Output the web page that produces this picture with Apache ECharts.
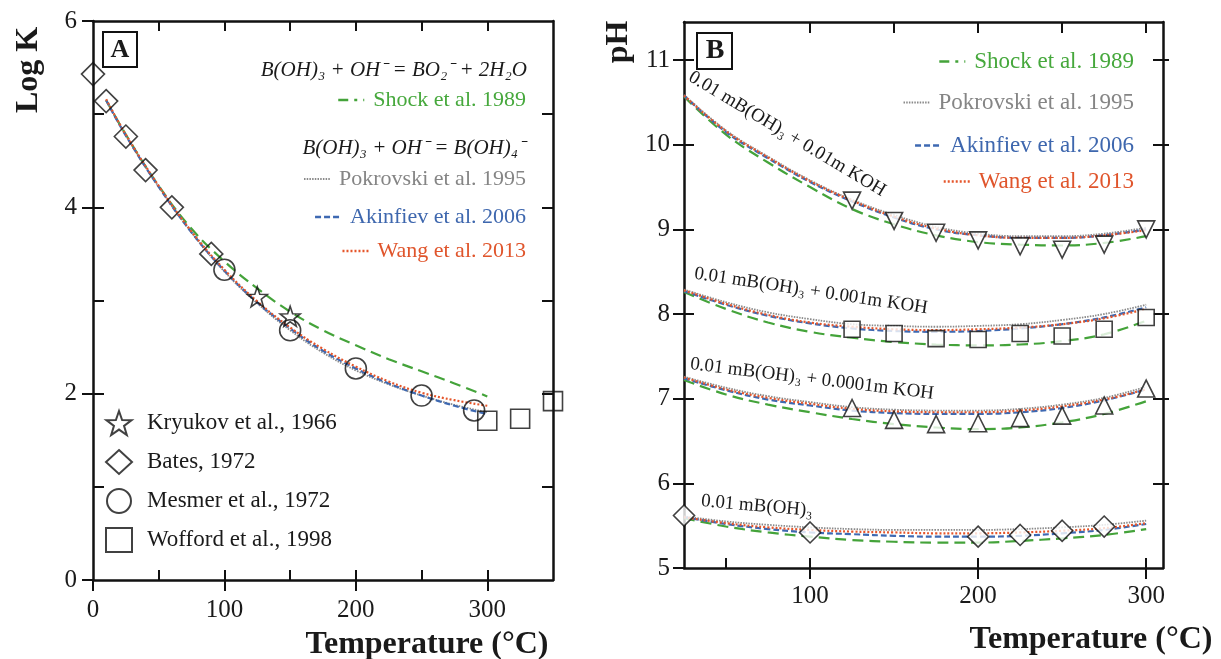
<!DOCTYPE html>
<html>
<head>
<meta charset="utf-8">
<script src="https://cdn.jsdelivr.net/npm/echarts@6/dist/echarts.min.js"></script>
<style>
html,body{margin:0;padding:0;background:#fff;}
#chart{width:1221px;height:659px;}
</style>
</head>
<body>
<div id="chart"></div>
<script>
// ---------- Panel A data (log K vs temperature) ----------
const tempA = [10, 25, 50, 75, 100, 125, 150, 175, 200, 225, 250, 275, 300];
const shockA = [5.15, 4.78, 4.23, 3.77, 3.42, 3.13, 2.88, 2.68, 2.52, 2.37, 2.24, 2.11, 1.97];
const pokrovskiA = [5.15, 4.77, 4.22, 3.73, 3.31, 2.97, 2.68, 2.44, 2.25, 2.10, 1.98, 1.88, 1.80];
const akinfievA = [5.15, 4.77, 4.22, 3.73, 3.32, 2.98, 2.70, 2.46, 2.27, 2.11, 1.98, 1.87, 1.78];
const wangA = [5.16, 4.78, 4.23, 3.74, 3.33, 2.99, 2.71, 2.48, 2.29, 2.13, 2.01, 1.93, 1.87];

const kryukovT = [125, 150];
const kryukovK = [3.04, 2.83];
const batesT = [0, 10, 25, 40, 60, 90];
const batesK = [5.43, 5.14, 4.76, 4.40, 4.00, 3.50];
const mesmerT = [100, 150, 200, 250, 290];
const mesmerK = [3.33, 2.68, 2.27, 1.98, 1.82];
const woffordT = [300, 325, 350];
const woffordK = [1.71, 1.73, 1.92];

// ---------- Panel B data (pH vs temperature) ----------
const tempB = [25, 50, 75, 100, 125, 150, 175, 200, 225, 250, 275, 300];
// 0.01 mB(OH)3 + 0.01m KOH
const shockB1 = [10.57, 10.12, 9.79, 9.50, 9.24, 9.06, 8.93, 8.85, 8.82, 8.81, 8.84, 8.92];
const pokrovskiB1 = [10.59, 10.17, 9.86, 9.58, 9.35, 9.17, 9.03, 8.95, 8.92, 8.92, 8.95, 9.02];
const akinfievB1 = [10.58, 10.15, 9.84, 9.56, 9.33, 9.14, 9.00, 8.93, 8.90, 8.90, 8.93, 9.00];
const wangB1 = [10.58, 10.16, 9.85, 9.57, 9.34, 9.15, 9.01, 8.93, 8.90, 8.90, 8.93, 8.99];
// 0.01 mB(OH)3 + 0.001m KOH
const shockB2 = [8.26, 8.06, 7.90, 7.79, 7.72, 7.67, 7.64, 7.63, 7.64, 7.68, 7.76, 7.92];
const pokrovskiB2 = [8.29, 8.14, 8.02, 7.94, 7.88, 7.86, 7.85, 7.86, 7.88, 7.93, 8.00, 8.11];
const akinfievB2 = [8.27, 8.11, 7.98, 7.89, 7.83, 7.80, 7.79, 7.80, 7.83, 7.88, 7.96, 8.08];
const wangB2 = [8.28, 8.12, 7.99, 7.90, 7.85, 7.82, 7.81, 7.82, 7.84, 7.88, 7.95, 8.06];
// 0.01 mB(OH)3 + 0.0001m KOH
const shockB3 = [7.22, 7.05, 6.93, 6.84, 6.76, 6.70, 6.66, 6.64, 6.66, 6.72, 6.82, 6.97];
const pokrovskiB3 = [7.26, 7.13, 7.03, 6.96, 6.90, 6.87, 6.86, 6.86, 6.88, 6.93, 7.01, 7.14];
const akinfievB3 = [7.24, 7.10, 6.99, 6.92, 6.86, 6.83, 6.82, 6.82, 6.84, 6.89, 6.98, 7.11];
const wangB3 = [7.25, 7.11, 7.01, 6.94, 6.88, 6.85, 6.84, 6.84, 6.86, 6.91, 6.99, 7.11];
// 0.01 mB(OH)3
const shockB4 = [5.59, 5.49, 5.42, 5.37, 5.33, 5.31, 5.30, 5.30, 5.32, 5.35, 5.39, 5.46];
const pokrovskiB4 = [5.61, 5.55, 5.51, 5.48, 5.46, 5.45, 5.45, 5.45, 5.46, 5.48, 5.51, 5.56];
const akinfievB4 = [5.60, 5.52, 5.46, 5.42, 5.40, 5.38, 5.37, 5.37, 5.38, 5.41, 5.45, 5.52];
const wangB4 = [5.60, 5.53, 5.48, 5.45, 5.43, 5.42, 5.41, 5.41, 5.42, 5.44, 5.47, 5.53];

// measured points panel B
const koh01T = [125, 150, 175, 200, 225, 250, 275, 300];
const koh01pH = [9.34, 9.10, 8.96, 8.87, 8.80, 8.76, 8.82, 9.00];
const koh001T = [125, 150, 175, 200, 225, 250, 275, 300];
const koh001pH = [7.82, 7.77, 7.71, 7.70, 7.77, 7.74, 7.82, 7.96];
const koh0001T = [125, 150, 175, 200, 225, 250, 275, 300];
const koh0001pH = [6.89, 6.75, 6.70, 6.71, 6.77, 6.80, 6.92, 7.12];
const boricT = [25, 100, 200, 225, 250, 275];
const boricpH = [5.62, 5.42, 5.37, 5.39, 5.44, 5.49];

// tick labels
const xTicksA = [0, 100, 200, 300];
const yTicksA = [0, 2, 4, 6];
const xTicksB = [100, 200, 300];
const yTicksB = [5, 6, 7, 8, 9, 10, 11];

// ---------- styles ----------
const SERIF = "'Liberation Serif','Times New Roman',serif";
const C_GREEN = '#44a33a', C_GRAY = '#8a8a8a', C_BLUE = '#3e69b2', C_ORANGE = '#e5562b';
const models = [
  {name: 'Shock et al. 1989', color: C_GREEN, type: [11, 6], width: 2.2, text: '#46a83c', key: [10, 6, 3, 6]},
  {name: 'Pokrovski et al. 1995', color: C_GRAY, type: [1.5, 1.2], width: 1.8, text: '#858585', key: [1.5, 1.2]},
  {name: 'Akinfiev et al. 2006', color: C_BLUE, type: [6, 3], width: 2.2, text: '#3e67ae', key: [6, 3]},
  {name: 'Wang et al. 2013', color: C_ORANGE, type: [2, 2], width: 2.2, text: '#e0552c', key: [2, 2]}
];
const STAR = 'path://M100,0L123.5,67.6L195.1,69.1L138,112.4L158.8,180.9L100,140L41.2,180.9L62,112.4L4.9,69.1L76.5,67.6Z';

function pairs(xs, ys) { return xs.map((x, i) => [x, ys[i]]); }

const AXC = '#111';
function baseAxis(extra) {
  return Object.assign({
    type: 'value', splitLine: {show: false},
    axisLine: {show: false, onZero: false, lineStyle: {color: AXC, width: 2.5}},
    axisTick: {show: false}, axisLabel: {show: false}
  }, extra);
}
const lblStyle = {fontFamily: SERIF, fontSize: 25, color: '#1a1a1a'};

const xAxis = [
  baseAxis({gridIndex: 0, position: 'bottom', min: 0, max: 350,
    axisLine: {show: true, onZero: false, lineStyle: {color: AXC, width: 2.5}},
    axisTick: {show: true, inside: false, length: 11, customValues: xTicksA, lineStyle: {color: AXC, width: 2}},
    axisLabel: Object.assign({show: true, margin: 18, customValues: xTicksA}, lblStyle)}),
  baseAxis({gridIndex: 0, position: 'bottom', min: 0, max: 350,
    axisTick: {show: true, inside: true, length: 10, customValues: [50, 100, 150, 200, 250, 300], lineStyle: {color: AXC, width: 2}}}),
  baseAxis({gridIndex: 0, position: 'top', min: 0, max: 350,
    axisLine: {show: true, onZero: false, lineStyle: {color: AXC, width: 2.5}},
    axisTick: {show: true, inside: true, length: 10, customValues: [50, 100, 150, 200, 250, 300], lineStyle: {color: AXC, width: 2}}}),
  baseAxis({gridIndex: 1, position: 'bottom', min: 25, max: 310,
    axisLine: {show: true, onZero: false, lineStyle: {color: AXC, width: 2.5}},
    axisTick: {show: true, inside: false, length: 11, customValues: xTicksB, lineStyle: {color: AXC, width: 2}},
    axisLabel: Object.assign({show: true, margin: 16, customValues: xTicksB}, lblStyle)}),
  baseAxis({gridIndex: 1, position: 'bottom', min: 25, max: 310,
    axisTick: {show: true, inside: true, length: 10, customValues: [50, 100, 200, 300], lineStyle: {color: AXC, width: 2}}}),
  baseAxis({gridIndex: 1, position: 'top', min: 25, max: 310,
    axisLine: {show: true, onZero: false, lineStyle: {color: AXC, width: 2.5}},
    axisTick: {show: true, inside: true, length: 11, customValues: [100, 150, 200, 250, 300], lineStyle: {color: AXC, width: 2}}})
];

const yAxis = [
  baseAxis({gridIndex: 0, position: 'left', min: 0, max: 6,
    axisLine: {show: true, onZero: false, lineStyle: {color: AXC, width: 2.5}},
    axisTick: {show: true, inside: false, length: 11, customValues: yTicksA, lineStyle: {color: AXC, width: 2}},
    axisLabel: Object.assign({show: true, margin: 16, customValues: yTicksA}, lblStyle)}),
  baseAxis({gridIndex: 0, position: 'left', min: 0, max: 6,
    axisTick: {show: true, inside: true, length: 11, customValues: [1, 2, 3, 4, 5], lineStyle: {color: AXC, width: 2}}}),
  baseAxis({gridIndex: 0, position: 'right', min: 0, max: 6,
    axisLine: {show: true, onZero: false, lineStyle: {color: AXC, width: 2.5}},
    axisTick: {show: true, inside: true, length: 11, customValues: [1, 2, 3, 4, 5], lineStyle: {color: AXC, width: 2}}}),
  baseAxis({gridIndex: 1, position: 'left', min: 5, max: 11.45,
    axisLine: {show: true, onZero: false, lineStyle: {color: AXC, width: 2.5}},
    axisTick: {show: true, inside: false, length: 11, customValues: yTicksB, lineStyle: {color: AXC, width: 2}},
    axisLabel: Object.assign({show: true, margin: 14, customValues: yTicksB}, lblStyle)}),
  baseAxis({gridIndex: 1, position: 'left', min: 5, max: 11.45,
    axisTick: {show: true, inside: true, length: 10, customValues: [6, 7, 8, 9, 10, 11], lineStyle: {color: AXC, width: 2}}}),
  baseAxis({gridIndex: 1, position: 'right', min: 5, max: 11.45,
    axisLine: {show: true, onZero: false, lineStyle: {color: AXC, width: 2.5}},
    axisTick: {show: true, inside: false, length: 6, customValues: [6, 7, 8, 9, 10, 11], lineStyle: {color: AXC, width: 2}}}),
  baseAxis({gridIndex: 1, position: 'right', min: 5, max: 11.45,
    axisTick: {show: true, inside: true, length: 10, customValues: [6, 7, 8, 9, 10, 11], lineStyle: {color: AXC, width: 2}}})
];

const series = [];
function curve(m, xs, ys, xi, yi) {
  series.push({
    name: m.name, type: 'line', xAxisIndex: xi, yAxisIndex: yi, smooth: 0.4,
    symbol: 'none', showSymbol: false, silent: true,
    lineStyle: {color: m.color, width: m.width, type: m.type},
    itemStyle: {color: m.color},
    data: pairs(xs, ys), z: 3
  });
}
[shockA, pokrovskiA, akinfievA, wangA].forEach((ys, i) => curve(models[i], tempA, ys, 0, 0));
const groupsB = [
  [shockB1, pokrovskiB1, akinfievB1, wangB1],
  [shockB2, pokrovskiB2, akinfievB2, wangB2],
  [shockB3, pokrovskiB3, akinfievB3, wangB3],
  [shockB4, pokrovskiB4, akinfievB4, wangB4]
];
groupsB.forEach(g => g.forEach((ys, i) => curve(models[i], tempB, ys, 3, 3)));

function pts(name, xs, ys, xi, yi, symbol, size, fill, rot) {
  series.push({
    name: name, type: 'scatter', xAxisIndex: xi, yAxisIndex: yi,
    symbol: symbol, symbolSize: size, symbolRotate: rot || 0, clip: false, silent: true,
    itemStyle: {color: fill, borderColor: '#111', borderWidth: 1.6},
    data: pairs(xs, ys), z: 5
  });
}
pts('Kryukov et al., 1966', kryukovT, kryukovK, 0, 0, STAR, 20, 'rgba(255,255,255,0)');
pts('Bates, 1972', batesT, batesK, 0, 0, 'diamond', 23, 'rgba(255,255,255,0)');
pts('Mesmer et al., 1972', mesmerT, mesmerK, 0, 0, 'circle', 21, 'rgba(255,255,255,0)');
pts('Wofford et al., 1998', woffordT, woffordK, 0, 0, 'rect', 19, 'rgba(255,255,255,0)');
pts('0.01m KOH (measured)', koh01T, koh01pH, 3, 3, 'triangle', 17, '#fff', 180);
pts('0.001m KOH (measured)', koh001T, koh001pH, 3, 3, 'rect', 16, '#fff');
pts('0.0001m KOH (measured)', koh0001T, koh0001pH, 3, 3, 'triangle', 17, '#fff');
pts('B(OH)3 only (measured)', boricT, boricpH, 3, 3, 'diamond', 21, '#fff');

// Legends
const legends = [];
const legA_y = [101, 180, 218, 252];
const legB_y = [62, 103, 146, 182];
models.forEach((m, i) => {
  [[695, legA_y[i], 22], [87, legB_y[i], 23]].forEach(([r, cy, fs]) => {
    legends.push({
      right: r, top: cy - 12, orient: 'vertical', padding: 0, selectedMode: false,
      itemWidth: 26, itemHeight: 10,
      itemStyle: {opacity: 0, borderWidth: 0},
      lineStyle: {type: m.key, width: m.width + 0.4, color: m.color},
      textStyle: {fontFamily: SERIF, fontSize: fs, color: m.text, padding: [0, 0, 0, 4]},
      data: [{name: m.name, textStyle: {color: m.text}}]
    });
  });
});
legends.push({
  left: 105, top: 410, orient: 'vertical', padding: 0, selectedMode: false,
  itemWidth: 26, itemHeight: 24, itemGap: 13,
  textStyle: {fontFamily: SERIF, fontSize: 23, color: '#1a1a1a', padding: [0, 0, 0, 10]},
  data: ['Kryukov et al., 1966', 'Bates, 1972', 'Mesmer et al., 1972', 'Wofford et al., 1998']
});

function txt(x, y, text, font, opts) {
  return Object.assign({
    type: 'text', x: x, y: y, silent: true, z: 10,
    style: Object.assign({text: text, font: font, fill: '#1a1a1a',
      align: 'center', verticalAlign: 'middle', textAlign: 'center', textVerticalAlign: 'middle'}, (opts && opts.style) || {})
  }, opts && opts.rotation !== undefined ? {rotation: opts.rotation} : {});
}
const deg = Math.PI / 180;
const graphic = [
  txt(29, 70, 'Log K', 'bold 32px ' + SERIF, {rotation: 90 * deg}),
  txt(619, 42, 'pH', 'bold 32px ' + SERIF, {rotation: 90 * deg}),
  txt(427, 645, 'Temperature (°C)', 'bold 32px ' + SERIF),
  txt(1091, 640, 'Temperature (°C)', 'bold 32px ' + SERIF),
  {type: 'rect', shape: {x: 103, y: 32, width: 34, height: 35}, style: {fill: '#fff', stroke: '#111', lineWidth: 2}, z: 10},
  txt(120, 50, 'A', 'bold 26px ' + SERIF),
  {type: 'rect', shape: {x: 697, y: 33, width: 35, height: 36}, style: {fill: '#fff', stroke: '#111', lineWidth: 2}, z: 10},
  txt(715, 51, 'B', 'bold 28px ' + SERIF),
  txt(527, 70, 'B(OH)₃ + OH⁻ = BO₂⁻ + 2H₂O', 'italic 21px ' + SERIF, {style: {align: 'right', textAlign: 'right'}}),
  txt(525, 148, 'B(OH)₃ + OH⁻ = B(OH)₄⁻', 'italic 21px ' + SERIF, {style: {align: 'right', textAlign: 'right'}}),
  txt(787, 134, '0.01 mB(OH)₃ + 0.01m KOH', '19px ' + SERIF, {rotation: -31 * deg}),
  txt(811, 291, '0.01 mB(OH)₃ + 0.001m KOH', '19px ' + SERIF, {rotation: -8.5 * deg}),
  txt(812, 379, '0.01 mB(OH)₃ + 0.0001m KOH', '19px ' + SERIF, {rotation: -7 * deg}),
  txt(757, 506, '0.01 mB(OH)₃', '19px ' + SERIF, {rotation: -5 * deg})
];

const chart = echarts.init(document.getElementById('chart'), null, {renderer: 'canvas'});
chart.setOption({
  backgroundColor: '#fff',
  animation: false,
  grid: [
    {left: 93, top: 21, width: 460, height: 559},
    {left: 684, top: 22, width: 479, height: 546}
  ],
  xAxis: xAxis,
  yAxis: yAxis,
  legend: legends,
  series: series,
  graphic: graphic
});
</script>
</body>
</html>
